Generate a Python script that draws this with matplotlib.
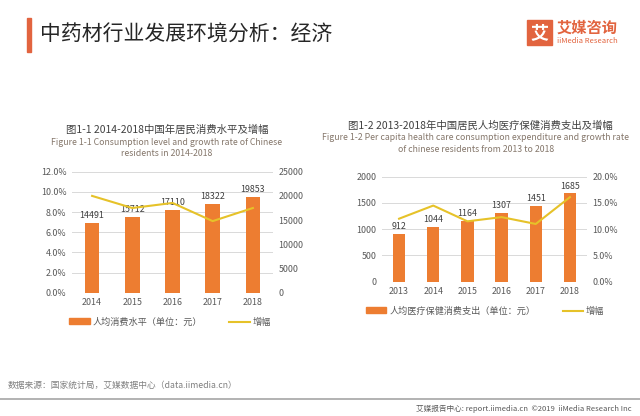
import numpy as np
import matplotlib
matplotlib.use('Agg')
import matplotlib.pyplot as plt
from matplotlib.patches import Rectangle, Patch
from matplotlib.lines import Line2D

plt.rcParams['font.family'] = ['Noto Sans CJK SC', 'DejaVu Sans']

# chart 1 data
years1 = ['2014', '2015', '2016', '2017', '2018']
consume = [14491, 15712, 17110, 18322, 19853]
consume_growth = [9.6, 8.4, 8.9, 7.1, 8.4]

# chart 2 data
years2 = ['2013', '2014', '2015', '2016', '2017', '2018']
health = [912, 1044, 1164, 1307, 1451, 1685]
health_growth = [12.0, 14.5, 11.5, 12.3, 11.0, 16.1]

ORANGE = '#ED7D31'
YELLOW = '#E6C229'
GRID = '#D9D9D9'
TICK = '#595959'
W, H = 640, 416

fig = plt.figure(figsize=(6.4, 4.16), dpi=100)


def fx(x):
    return x / W


def fy(y):
    return 1 - y / H


# header
fig.patches.append(Rectangle((fx(27), fy(52)), fx(4), 34 / H, transform=fig.transFigure,
                             color='#E2643F', zorder=5))
fig.text(fx(40), fy(35), '中药材行业发展环境分析：经济', fontsize=15, color='#262626',
         va='center', ha='left')
fig.patches.append(Rectangle((fx(527), fy(45)), fx(25), 25 / H, transform=fig.transFigure,
                             color='#E2643F', zorder=5))
fig.text(fx(539.5), fy(32.5), '艾', fontsize=13, color='white', weight='bold',
         ha='center', va='center', zorder=6)
fig.text(fx(557), fy(27.5), '艾媒咨询', fontsize=11, color='#E2643F', weight='bold',
         ha='left', va='center')
fig.text(fx(557), fy(41), 'iiMedia Research', fontsize=5.5, color='#E2643F',
         ha='left', va='center')


def style(ax):
    for s in ax.spines.values():
        s.set_visible(False)
    ax.tick_params(length=0, labelsize=6.4, labelcolor=TICK, pad=4)


# ---------- chart 1 ----------
ax1 = fig.add_axes([fx(72), fy(292.7), fx(201), 121 / H])
ax1b = ax1.twinx()
x1 = np.arange(len(years1))
for yv in range(0, 13, 2):
    ax1.axhline(yv / 12 * 25000, color=GRID, lw=0.7, zorder=0)
ax1.bar(x1, consume, width=0.36, color=ORANGE, zorder=2)
for xi, v in zip(x1, consume):
    ax1.text(xi, v + 600, str(v), ha='center', va='bottom', fontsize=6.4, color='#404040', zorder=4)
ax1.set_ylim(0, 25000)
ax1.set_yticks(range(0, 25001, 5000))
ax1.set_xlim(-0.5, 4.5)
ax1.set_xticks(x1)
ax1.set_xticklabels(years1)
style(ax1)
ax1b.plot(x1, consume_growth, color=YELLOW, lw=1.5, zorder=3)
ax1b.set_ylim(0, 12)
ax1b.set_yticks(range(0, 13, 2))
ax1b.set_yticklabels(['%.1f%%' % v for v in range(0, 13, 2)])
style(ax1b)
# bars on the right scale, rate on the left
ax1.yaxis.tick_right()
ax1b.yaxis.tick_left()
ax1.set_zorder(1)
ax1.patch.set_visible(False)
ax1b.set_zorder(2)
ax1b.patch.set_visible(False)

fig.text(fx(167), fy(130), '图1-1 2014-2018中国年居民消费水平及增幅', fontsize=7.5,
         color='#404040', ha='center', va='center')
fig.text(fx(167), fy(142.5), 'Figure 1-1 Consumption level and growth rate of Chinese',
         fontsize=6.3, color='#85776b', ha='center', va='center')
fig.text(fx(167), fy(153), 'residents in 2014-2018', fontsize=6.3, color='#85776b',
         ha='center', va='center')
ax1b.legend(handles=[Patch(color=ORANGE, label='人均消费水平（单位：元）'),
                     Line2D([], [], color=YELLOW, lw=1.5, label='增幅')],
            loc='center', bbox_to_anchor=(fx(170), fy(322)), bbox_transform=fig.transFigure,
            ncol=2, frameon=False, fontsize=6.6, labelcolor=TICK, handlelength=2.2,
            handleheight=0.6, columnspacing=3, handletextpad=0.3)

# ---------- chart 2 ----------
ax2 = fig.add_axes([fx(382), fy(281.7), fx(205), 105 / H])
x2 = np.arange(len(years2))
for yv in range(0, 2001, 500):
    ax2.axhline(yv, color=GRID, lw=0.7, zorder=0)
ax2.bar(x2, health, width=0.36, color=ORANGE, zorder=2)
for xi, v in zip(x2, health):
    ax2.text(xi, v + 50, str(v), ha='center', va='bottom', fontsize=6.4, color='#404040', zorder=4)
ax2.set_ylim(0, 2000)
ax2.set_yticks(range(0, 2001, 500))
ax2.set_xlim(-0.5, 5.5)
ax2.set_xticks(x2)
ax2.set_xticklabels(years2)
style(ax2)
ax2b = ax2.twinx()
ax2b.plot(x2, health_growth, color=YELLOW, lw=1.5, zorder=3)
ax2b.set_ylim(0, 20)
ax2b.set_yticks(range(0, 21, 5))
ax2b.set_yticklabels(['%.1f%%' % v for v in range(0, 21, 5)])
style(ax2b)

fig.text(fx(480), fy(126), '图1-2 2013-2018年中国居民人均医疗保健消费支出及增幅', fontsize=7.5,
         color='#404040', ha='center', va='center')
fig.text(fx(476), fy(138), 'Figure 1-2 Per capita health care consumption expenditure and growth rate',
         fontsize=6.3, color='#85776b', ha='center', va='center')
fig.text(fx(476), fy(149), 'of chinese residents from 2013 to 2018', fontsize=6.3,
         color='#85776b', ha='center', va='center')
ax2b.legend(handles=[Patch(color=ORANGE, label='人均医疗保健消费支出（单位：元）'),
                     Line2D([], [], color=YELLOW, lw=1.5, label='增幅')],
            loc='center', bbox_to_anchor=(fx(485), fy(311)), bbox_transform=fig.transFigure,
            ncol=2, frameon=False, fontsize=6.6, labelcolor=TICK, handlelength=2.2,
            handleheight=0.6, columnspacing=3, handletextpad=0.3)

# footer
fig.text(fx(8), fy(385), '数据来源：国家统计局，艾媒数据中心（data.iimedia.cn）', fontsize=6.3,
         color='#808080', ha='left', va='center')
fig.add_artist(Line2D([0, 1], [fy(399), fy(399)], transform=fig.transFigure,
                      color='#A6A6A6', lw=1.2))
fig.text(fx(632), fy(408.5), '艾媒报告中心: report.iimedia.cn  ©2019  iiMedia Research Inc',
         fontsize=5.5, color='#595959', ha='right', va='center')

fig.savefig('out.png', dpi=100)
